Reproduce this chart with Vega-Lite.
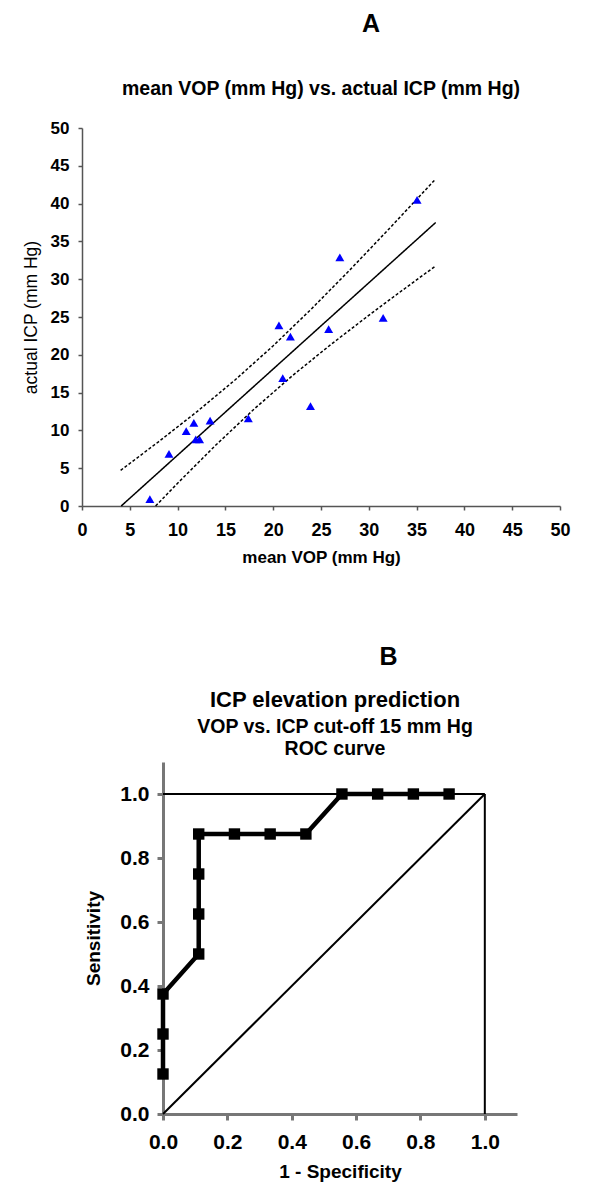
{
  "$schema": "https://vega.github.io/schema/vega-lite/v6.json",
  "padding": {"left": 22, "top": 11, "right": 5, "bottom": 5},
  "config": {
    "font": "Liberation Sans",
    "view": {"stroke": null},
    "axis": {"grid": false, "labelColor": "black", "titleColor": "black", "labelFlush": false, "labelOverlap": false},
    "title": {"color": "black", "font": "Liberation Sans"}
  },
  "datasets": {
    "ptsA": [
      {"vop": 35.05, "icp": 40.5}, {"vop": 26.97, "icp": 32.9}, {"vop": 20.6, "icp": 23.9},
      {"vop": 21.8, "icp": 22.4}, {"vop": 25.8, "icp": 23.4}, {"vop": 31.5, "icp": 24.9},
      {"vop": 21.0, "icp": 16.9}, {"vop": 23.9, "icp": 13.2}, {"vop": 17.4, "icp": 11.6},
      {"vop": 13.4, "icp": 11.3}, {"vop": 11.7, "icp": 11.0}, {"vop": 10.9, "icp": 9.9},
      {"vop": 11.9, "icp": 8.8}, {"vop": 12.3, "icp": 8.8}, {"vop": 9.1, "icp": 6.9},
      {"vop": 7.1, "icp": 0.9}
    ],
    "fitA": [
      {"vop": 4.1, "icp": 0, "series": "fit", "kind": "solid"},
      {"vop": 37, "icp": 37.5, "series": "fit", "kind": "solid"},
      {"vop": 4.04, "icp": 4.72, "series": "upper", "kind": "dashed"},
      {"vop": 8, "icp": 8.49, "series": "upper", "kind": "dashed"},
      {"vop": 12, "icp": 12.45, "series": "upper", "kind": "dashed"},
      {"vop": 16, "icp": 16.66, "series": "upper", "kind": "dashed"},
      {"vop": 20, "icp": 21.19, "series": "upper", "kind": "dashed"},
      {"vop": 24, "icp": 26.07, "series": "upper", "kind": "dashed"},
      {"vop": 28, "icp": 31.2, "series": "upper", "kind": "dashed"},
      {"vop": 32, "icp": 36.5, "series": "upper", "kind": "dashed"},
      {"vop": 37, "icp": 43.26, "series": "upper", "kind": "dashed"},
      {"vop": 7.7, "icp": 0, "series": "lower", "kind": "dashed"},
      {"vop": 10, "icp": 3.01, "series": "lower", "kind": "dashed"},
      {"vop": 14, "icp": 8.06, "series": "lower", "kind": "dashed"},
      {"vop": 18, "icp": 12.82, "series": "lower", "kind": "dashed"},
      {"vop": 22, "icp": 17.23, "series": "lower", "kind": "dashed"},
      {"vop": 26, "icp": 21.33, "series": "lower", "kind": "dashed"},
      {"vop": 30, "icp": 25.22, "series": "lower", "kind": "dashed"},
      {"vop": 34, "icp": 28.99, "series": "lower", "kind": "dashed"},
      {"vop": 37, "icp": 31.76, "series": "lower", "kind": "dashed"}
    ],
    "rocB": [
      {"i": 0, "fpr": 0, "sens": 0.125}, {"i": 1, "fpr": 0, "sens": 0.25}, {"i": 2, "fpr": 0, "sens": 0.375},
      {"i": 3, "fpr": 0.111, "sens": 0.5}, {"i": 4, "fpr": 0.111, "sens": 0.625}, {"i": 5, "fpr": 0.111, "sens": 0.75},
      {"i": 6, "fpr": 0.111, "sens": 0.875}, {"i": 7, "fpr": 0.222, "sens": 0.875}, {"i": 8, "fpr": 0.333, "sens": 0.875},
      {"i": 9, "fpr": 0.444, "sens": 0.875}, {"i": 10, "fpr": 0.556, "sens": 1}, {"i": 11, "fpr": 0.667, "sens": 1},
      {"i": 12, "fpr": 0.778, "sens": 1}, {"i": 13, "fpr": 0.889, "sens": 1}
    ],
    "refB": [
      {"i": 0, "fpr": 0, "sens": 0, "series": "diag"}, {"i": 1, "fpr": 1, "sens": 1, "series": "diag"},
      {"i": 0, "fpr": 0, "sens": 1, "series": "top"}, {"i": 1, "fpr": 1, "sens": 1, "series": "top"},
      {"i": 0, "fpr": 1, "sens": 0, "series": "right"}, {"i": 1, "fpr": 1, "sens": 1, "series": "right"}
    ],
    "empty": []
  },
  "spacing": 79,
  "vconcat": [
    {
      "title": {"text": "A", "fontSize": 25, "fontWeight": "bold", "anchor": "middle", "dx": 75, "offset": 42},
      "vconcat": [
        {
          "width": 478,
          "height": 378,
          "title": {"text": "mean VOP (mm Hg) vs. actual ICP (mm Hg)", "fontSize": 19.5, "fontWeight": "bold", "offset": 20},
          "encoding": {
            "x": {"field": "vop", "type": "quantitative", "scale": {"domain": [0, 50]},
              "axis": {"title": "mean VOP (mm Hg)", "values": [0,5,10,15,20,25,30,35,40,45,50], "labelFontSize": 18, "labelFontWeight": "bold", "domainColor": "#555", "tickColor": "#555", "domainWidth": 1.5, "tickWidth": 1.5, "tickSize": 4, "labelPadding": 11, "titleFontSize": 17, "titleFontWeight": "bold", "titlePadding": 10}},
            "y": {"field": "icp", "type": "quantitative", "scale": {"domain": [0, 50]},
              "axis": {"title": "actual ICP (mm Hg)", "values": [0,5,10,15,20,25,30,35,40,45,50], "labelFontSize": 17, "labelFontWeight": "bold", "domainColor": "#555", "tickColor": "#555", "domainWidth": 1.5, "tickWidth": 1.5, "tickSize": 4, "labelPadding": 9, "titleFontSize": 17.5, "titleFontWeight": "normal", "titlePadding": 10}}
          },
          "layer": [
            {
              "data": {"name": "fitA"},
              "mark": {"type": "line", "color": "black", "strokeWidth": 1.5},
              "encoding": {
                "detail": {"field": "series", "type": "nominal"},
                "strokeDash": {"field": "kind", "type": "nominal", "scale": {"domain": ["solid", "dashed"], "range": [[1, 0], [3, 2]]}, "legend": null}
              }
            },
            {
              "data": {"name": "ptsA"},
              "mark": {"type": "point", "shape": "triangle-up", "filled": true, "color": "#0000ff", "size": 80, "opacity": 1},
              "encoding": {}
            }
          ]
        }
      ]
    },
    {
      "title": {"text": "B", "fontSize": 25, "fontWeight": "bold", "anchor": "middle", "dx": 89, "offset": 19},
      "spacing": 0,
      "hconcat": [
        {
          "width": 2,
          "height": 352,
          "data": {"name": "empty"},
          "mark": "point"
        },
        {
          "width": 354,
          "height": 352,
          "title": {"text": "ICP elevation prediction", "subtitle": ["VOP vs. ICP cut-off 15 mm Hg", "ROC curve"], "fontSize": 22, "fontWeight": "bold", "subtitleFontSize": 19.5, "subtitleFontWeight": "bold", "subtitleColor": "black", "subtitlePadding": 6, "subtitleLineHeight": 22, "offset": 3, "dx": -5},
          "encoding": {
            "x": {"field": "fpr", "type": "quantitative", "scale": {"domain": [0, 1.1]},
              "axis": {"title": "1 - Specificity", "values": [0, 0.2, 0.4, 0.6, 0.8, 1.0], "format": ".1f", "labelFontSize": 21, "labelFontWeight": "bold", "domainColor": "#777", "tickColor": "#777", "domainWidth": 3, "tickWidth": 3, "tickSize": 6, "labelPadding": 11, "titleFontSize": 19, "titleFontWeight": "bold", "titlePadding": 10}},
            "y": {"field": "sens", "type": "quantitative", "scale": {"domain": [0, 1.1]},
              "axis": {"title": "Sensitivity", "values": [0, 0.2, 0.4, 0.6, 0.8, 1.0], "format": ".1f", "labelFontSize": 21, "labelFontWeight": "bold", "domainColor": "#777", "tickColor": "#777", "domainWidth": 3, "tickWidth": 3, "tickSize": 6, "labelPadding": 8, "titleFontSize": 19, "titleFontWeight": "bold", "titlePadding": 16}}
          },
          "layer": [
            {
              "data": {"name": "refB"},
              "mark": {"type": "line", "color": "black", "strokeWidth": 2},
              "encoding": {
                "detail": {"field": "series", "type": "nominal"},
                "order": {"field": "i", "type": "quantitative"}
              }
            },
            {
              "data": {"name": "rocB"},
              "mark": {"type": "line", "color": "black", "strokeWidth": 4.5},
              "encoding": {
                "order": {"field": "i", "type": "quantitative"}
              }
            },
            {
              "data": {"name": "rocB"},
              "mark": {"type": "point", "shape": "square", "filled": true, "color": "black", "size": 130, "opacity": 1},
              "encoding": {}
            }
          ]
        }
      ]
    }
  ]
}
